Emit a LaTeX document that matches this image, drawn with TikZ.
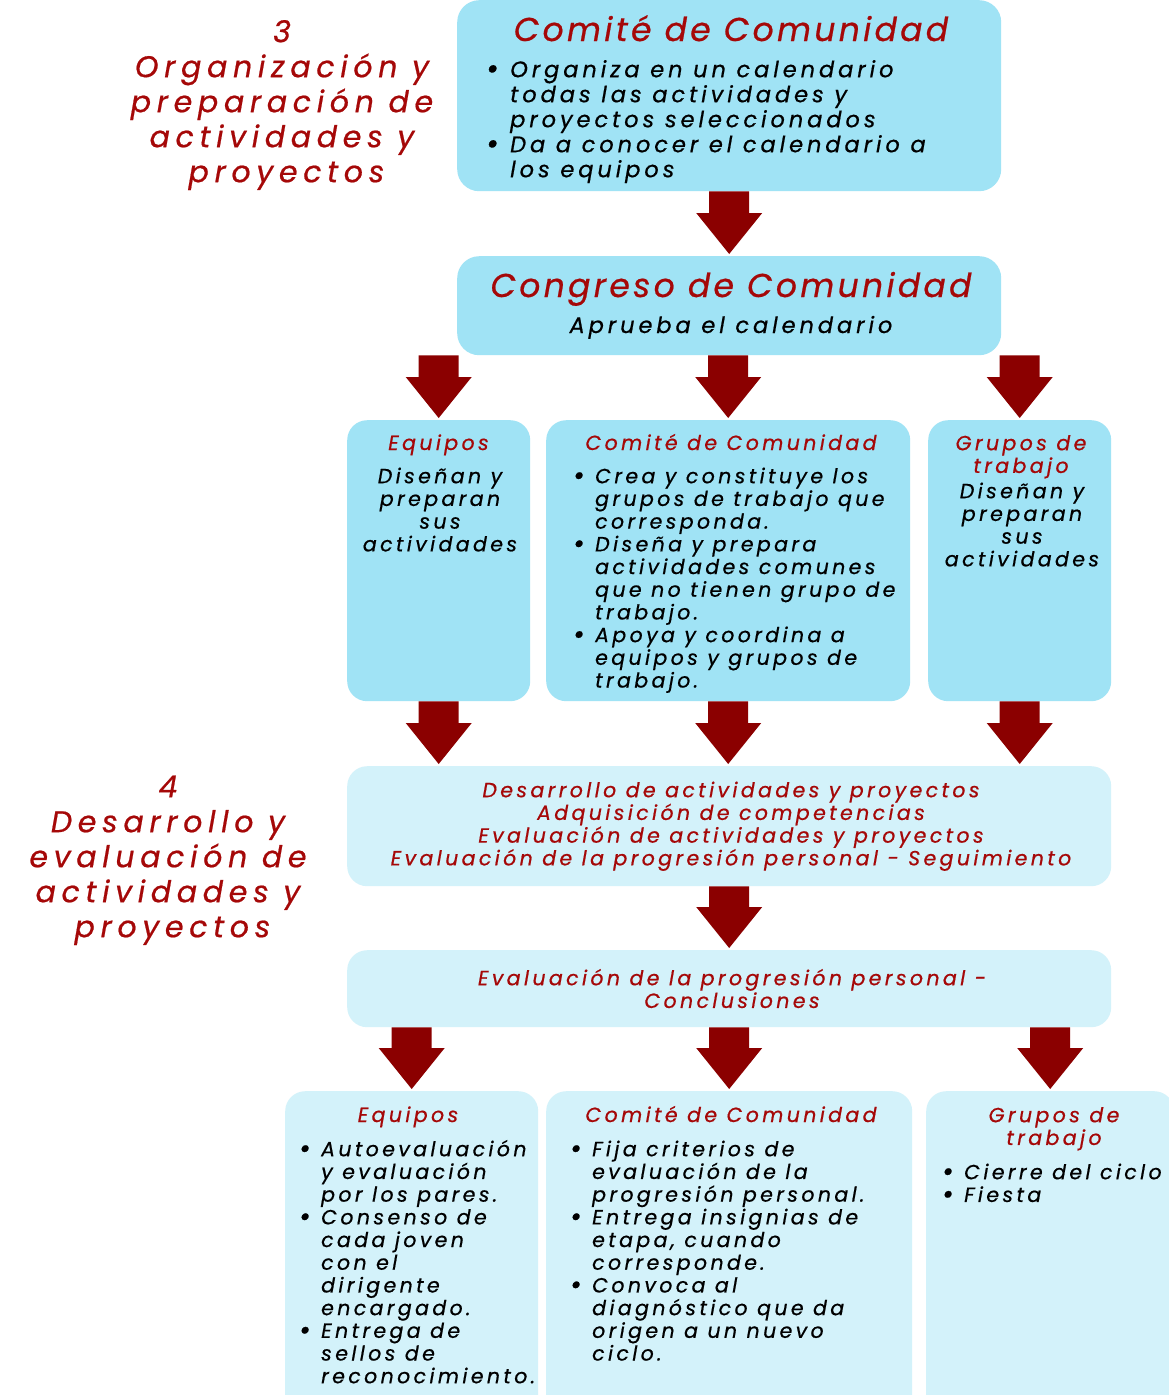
\documentclass[tikz,border=0pt]{standalone}
\usepackage{fontspec}
\usetikzlibrary{calc}
\newfontfamily\cgbig{Poppins}[LetterSpace=10,FakeBold=0.6]
\newfontfamily\cgmid{Poppins}[LetterSpace=17.5,FakeBold=0.6]
\newfontfamily\cgsm{Poppins}[LetterSpace=16.5,FakeBold=0.6]
\newfontfamily\cgside{Poppins}[LetterSpace=19,FakeBold=0.6]
\definecolor{boxblue}{HTML}{A0E3F5}
\definecolor{boxlight}{HTML}{D3F2FA}
\definecolor{arrred}{HTML}{8B0000}
\definecolor{txtred}{HTML}{A50808}
\newcommand{\ts}{\rule{0pt}{1.05em}}
\newcommand{\dotb}{\hspace*{-5pt}\smash{\raisebox{-0.08em}{\scalebox{1.35}{•}}}}
\newcommand{\bl}{\makebox[17pt][l]{\dotb}}
\newcommand{\ind}{\hspace*{17pt}}
\newcommand{\blt}{\makebox[19pt][l]{\dotb}}
\newcommand{\indt}{\hspace*{19pt}}
\newcommand{\barrow}[2]{%
  \fill[arrred] let \p1=(#1), \p2=(#2) in
  ({\x1-20pt},\y1) -- ({\x1+20pt},\y1) -- ({\x1+20pt},{\y2+43pt}) --
  ({\x1+33pt},{\y2+43pt}) -- (\x1,{\y2+2pt}) -- ({\x1-33pt},{\y2+43pt}) --
  ({\x1-20pt},{\y2+43pt}) -- cycle;}
\begin{document}
\begin{tikzpicture}[x=1pt,y=-1pt,
  box/.style={fill=boxblue, rounded corners=22pt, inner sep=0pt, anchor=north west, draw=none},
  lbox/.style={fill=boxlight, rounded corners=20pt, inner sep=0pt, anchor=north west, draw=none},
  big/.style={inner sep=0pt, anchor=base, text=txtred, font=\cgbig\itshape\fontsize{33}{38}\selectfont},
  mid/.style={inner sep=0pt, font=\cgmid\itshape\fontsize{22.5}{25}\selectfont},
  sm/.style={inner sep=0pt, font=\cgsm\itshape\fontsize{20.5}{22.7}\selectfont},
  side/.style={inner sep=0pt, anchor=north, align=center, text=txtred, font=\cgside\itshape\fontsize{30}{35}\selectfont},
]
\useasboundingbox (0,0) rectangle (1169,1395);
\fill[white] (0,0) rectangle (1169,1395);
\clip (0,0) rectangle (1169,1395);

% boxes
\node[box, minimum width=544pt, minimum height=191pt] (b1) at (457,0) {};
\node[box, minimum width=544pt, minimum height=99pt] (b2) at (457,256) {};
\node[box, minimum width=183pt, minimum height=281pt, rounded corners=20pt] (b3) at (347,420) {};
\node[box, minimum width=364pt, minimum height=281pt, rounded corners=20pt] (b4) at (546,420) {};
\node[box, minimum width=183pt, minimum height=281pt, rounded corners=20pt] (b5) at (928,420) {};
\node[lbox, minimum width=764pt, minimum height=120pt] (b6) at (347,766) {};
\node[lbox, minimum width=764pt, minimum height=77pt] (b7) at (347,950) {};
\node[lbox, minimum width=253pt, minimum height=330pt] (b8) at (285,1091) {};
\node[lbox, minimum width=366pt, minimum height=330pt] (b9) at (546,1091) {};
\node[lbox, minimum width=248pt, minimum height=330pt] (b10) at (926,1091) {};

% arrows
\barrow{b1.south}{b2.north}
\barrow{b2.south -| b3.north}{b3.north}
\barrow{b2.south -| b4.north}{b4.north}
\barrow{b2.south -| b5.north}{b5.north}
\barrow{b3.south}{b6.north -| b3.south}
\barrow{b4.south}{b6.north -| b4.south}
\barrow{b5.south}{b6.north -| b5.south}
\barrow{b6.south}{b7.north}
\barrow{b7.south -| b8.north}{b8.north}
\barrow{b7.south -| b9.north}{b9.north}
\barrow{b7.south -| b10.north}{b10.north}

% side labels
\node[side] (s3) at (282,10.5) {\ts 3\\Organización y\\preparación de\\actividades y\\\hspace*{0.3em}proyectos};
\node[side] (s4) at (168,765.5) {\ts 4\\Desarrollo y\\evaluación de\\actividades y\\\hspace*{0.3em}proyectos};

% top box
\node[big] (t1) at (731,41) {Comité de Comunidad};
\node[mid, anchor=north west, align=left] (l1) at (491,53.4) {\ts\blt Organiza en un calendario\\
\indt todas las actividades y\\
\indt proyectos seleccionados\\
\blt Da a conocer el calendario a\\
\indt los equipos};

% congreso
\node[big] (t2) at (731,297) {Congreso de Comunidad};
\node[mid, anchor=base] (l2) at (731,333) {Aprueba el calendario};

% middle row
\node[sm, anchor=base, text=txtred] (t3) at (438.5,450) {Equipos};
\node[sm, anchor=north, align=center] (l3) at (440,461.5) {\ts Diseñan y\\preparan\\sus\\actividades};
\node[sm, anchor=base, text=txtred] (t4) at (731,450) {Comité de Comunidad};
\node[sm, anchor=north west, align=left] (l4) at (578,461.5) {\ts\bl Crea y constituye los\\
\ind grupos de trabajo que\\
\ind corresponda.\\
\bl Diseña y prepara\\
\ind actividades comunes\\
\ind que no tienen grupo de\\
\ind trabajo.\\
\bl Apoya y coordina a\\
\ind equipos y grupos de\\
\ind trabajo.};
\node[sm, anchor=north, align=center, text=txtred] (t5) at (1021,428.5) {\ts Grupos de\\trabajo};
\node[sm, anchor=north, align=center] (l5) at (1022,476.5) {\ts Diseñan y\\preparan\\sus\\actividades};

% development
\node[sm, anchor=north, align=center, text=txtred] (l6) at (731,775.5) {\ts Desarrollo de actividades y proyectos\\
Adquisición de competencias\\
Evaluación de actividades y proyectos\\
Evaluación de la progresión personal - Seguimiento};
\node[sm, anchor=north, align=center, text=txtred] (l7) at (732,963.5) {\ts Evaluación de la progresión personal -\\Conclusiones};

% bottom row
\node[sm, anchor=base, text=txtred] (t8) at (408,1122) {Equipos};
\node[sm, anchor=north west, align=left] (l8) at (304,1134.5) {\ts\bl Autoevaluación\\
\ind y evaluación\\
\ind por los pares.\\
\bl Consenso de\\
\ind cada joven\\
\ind con el\\
\ind dirigente\\
\ind encargado.\\
\bl Entrega de\\
\ind sellos de\\
\ind reconocimiento.};
\node[sm, anchor=base, text=txtred] (t9) at (731,1122) {Comité de Comunidad};
\node[sm, anchor=north west, align=left] (l9) at (575,1134.5) {\ts\bl Fija criterios de\\
\ind evaluación de la\\
\ind progresión personal.\\
\bl Entrega insignias de\\
\ind etapa, cuando\\
\ind corresponde.\\
\bl Convoca al\\
\ind diagnóstico que da\\
\ind origen a un nuevo\\
\ind ciclo.};
\node[sm, anchor=north, align=center, text=txtred] (t10) at (1054,1100.5) {\ts Grupos de\\trabajo};
\node[sm, anchor=north west, align=left] (l10) at (947,1157.5) {\ts\bl Cierre del ciclo\\
\bl Fiesta};
\end{tikzpicture}
\end{document}
